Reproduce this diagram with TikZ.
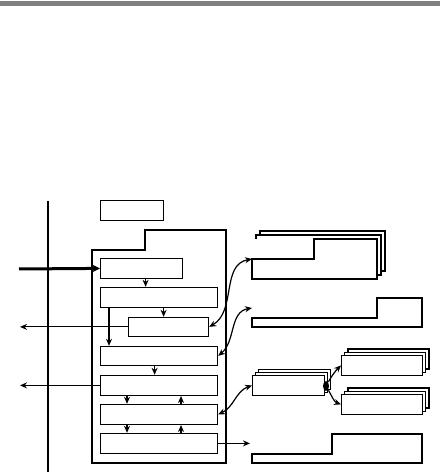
\documentclass[tikz,border=0pt]{standalone}
\usepackage{tikz}
\usetikzlibrary{arrows.meta, shapes.geometric}
\tikzset{>={Stealth[length=7bp,width=6bp]}}
\tikzset{
  blk/.style={draw, fill=white, inner sep=0pt, anchor=south west},
  sheet/.style={draw, fill=white}
}
\begin{document}
\begin{tikzpicture}[x=1bp, y=1bp, line width=1.2bp]
    \useasboundingbox (0,0) rectangle (440,473);
    \fill[gray] (0,467) rectangle (440,472);
    \draw[line width=1.5bp] (48,1) -- (48,272);
    % left column
    \node[blk, minimum width=63bp, minimum height=20bp] (hdr) at (100,252) {};
    \draw (92,10) -- (92,223) -- (145,223) -- (145,243) -- (226,243) -- (226,10) -- cycle;
    \node[blk, minimum width=82bp, minimum height=20bp] (rcv) at (100,194) {};
    \node[blk, minimum width=117bp, minimum height=20bp] (prs) at (100,165) {};
    \node[blk, minimum width=80bp, minimum height=19bp] (snd) at (128,136) {};
    \node[blk, minimum width=117bp, minimum height=19bp] (chk) at (100,107) {};
    \node[blk, minimum width=117bp, minimum height=20bp] (rep) at (100,77) {};
    \node[blk, minimum width=117bp, minimum height=20bp] (upd) at (100,48) {};
    \node[blk, minimum width=117bp, minimum height=20bp] (wrt) at (100,19) {};
    \coordinate (src) at (19,204);
    \coordinate (lft) at (20,0);
    \coordinate (rgt) at (250,0);
    \draw[-{Stealth[length=8bp,width=8bp]}, line width=3bp] (src) -- (rcv.west);
    \draw[->] ([xshift=4bp]rcv.south) -- ([xshift=4bp]rcv.south |- prs.north);
    \draw[->] ([xshift=4.5bp]prs.south) -- ([xshift=4.5bp]prs.south |- snd.north);
    \draw[->] ([xshift=9bp]prs.south west) -- ([xshift=9bp]prs.south west |- chk.north);
    \draw[->] (snd.west) -- (snd.west -| lft);
    \draw[->] ([xshift=-4.5bp]chk.south) -- ([xshift=-4.5bp]chk.south |- rep.north);
    \draw[->] (rep.west) -- (rep.west -| lft);
    \draw[->] ([xshift=27bp]rep.south west) -- ([xshift=27bp]rep.south west |- upd.north);
    \draw[->] ([xshift=81bp]upd.north west) -- ([xshift=81bp]upd.north west |- rep.south);
    \draw[->] ([xshift=27bp]upd.south west) -- ([xshift=27bp]upd.south west |- wrt.north);
    \draw[->] ([xshift=81bp]wrt.north west) -- ([xshift=81bp]wrt.north west |- upd.south);
    \draw[->] (wrt.east) -- (wrt.east -| rgt);
    % right column
    \draw[sheet] (260,202) rectangle (385,242);
    \draw[sheet] (256,198) rectangle (381,238);
    \fill[white] (252,194) rectangle (377,234);
    \draw (252,194) -- (252,214) -- (314,214) -- (314,234) -- (377,234) -- (377,194) -- cycle;
    \coordinate (db1) at (252,214);
    \draw (252,146) -- (252,155) -- (377,155) -- (377,175) -- (422,175) -- (422,146) -- cycle;
    \coordinate (db2) at (252,165);
    \draw[sheet] (258.5,83.5) rectangle (330.5,103.5);
    \draw[sheet] (255.2,80.2) rectangle (327.2,100.2);
    \node[blk, minimum width=72bp, minimum height=20bp] (st3) at (252,77) {};
    \draw[sheet] (348,104) rectangle (429,124);
    \draw[sheet] (344.5,100.5) rectangle (425.5,120.5);
    \node[blk, minimum width=81bp, minimum height=20bp] (st4) at (341,97) {};
    \draw[sheet] (348,65) rectangle (429,85);
    \draw[sheet] (344.5,61.5) rectangle (425.5,81.5);
    \node[blk, minimum width=81bp, minimum height=20bp] (st5) at (341,58) {};
    \draw (252,10) -- (252,19) -- (332,19) -- (332,39) -- (422,39) -- (422,10) -- cycle;
    % links
    \draw[<->] (snd.east) to[out=30, in=190] (db1);
    \draw[<->] (chk.east) to[out=40, in=190] (db2);
    \draw[<->] (upd.east) to[out=25, in=200] (st3.west);
    \node[fill, ellipse, inner sep=0pt, minimum width=6bp, minimum height=10bp] (jn) at (326,87) {};
    \draw[->] (jn) to[out=60, in=225] (st4.west);
    \draw[->] (jn) to[out=-60, in=160] (st5.west);
\end{tikzpicture}
\end{document}
